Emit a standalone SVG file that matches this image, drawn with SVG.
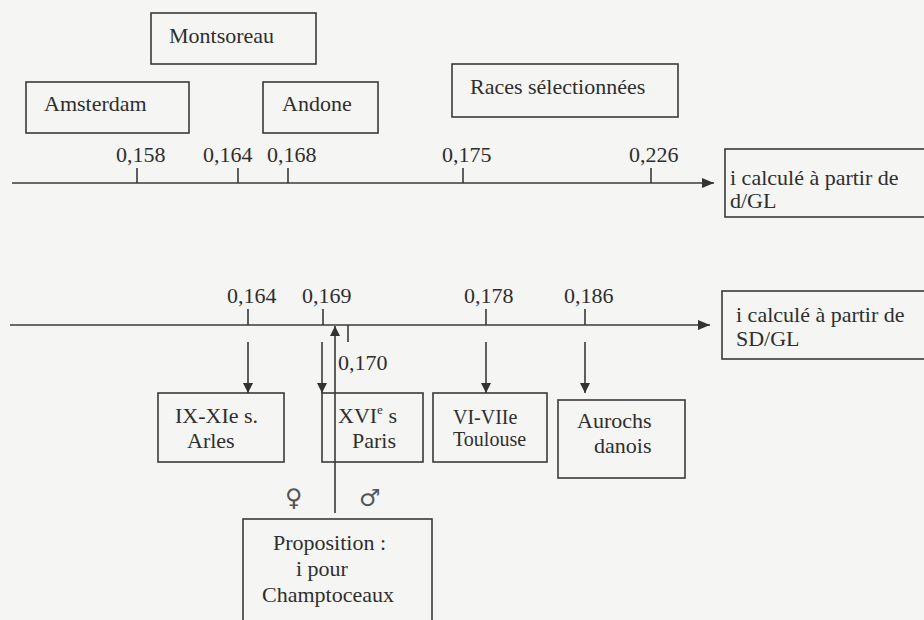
<svg xmlns="http://www.w3.org/2000/svg" width="924" height="620" viewBox="0 0 924 620">
<defs>
<marker id="ah" viewBox="0 0 10 10" refX="10" refY="5" markerWidth="10" markerHeight="10" markerUnits="userSpaceOnUse" orient="auto">
<path d="M0,0 L10,5 L0,10 z" fill="#333"/>
</marker>
<marker id="ax" viewBox="0 0 12 10" refX="12" refY="5" markerWidth="12" markerHeight="10" markerUnits="userSpaceOnUse" orient="auto">
<path d="M0,0 L12,5 L0,10 z" fill="#333"/>
</marker>
</defs>
<style>
text{font-family:"Liberation Serif","Times New Roman",serif;font-size:22px;fill:#2e2e2e}
.sm{font-size:20px}
.sym{font-family:"DejaVu Sans",sans-serif;font-size:24px;fill:#555}
.box{fill:none;stroke:#3a3a3a;stroke-width:1.6}
.ln{stroke:#3a3a3a;stroke-width:1.6;fill:none}
</style>
<rect width="924" height="620" fill="#f5f5f3"/>

<g id="montsoreau"><rect class="box" x="151" y="13" width="165" height="51"/><text x="169" y="43">Montsoreau</text></g>
<g id="amsterdam"><rect class="box" x="26" y="82" width="163" height="51"/><text x="44" y="111">Amsterdam</text></g>
<g id="andone"><rect class="box" x="263" y="82" width="115" height="51"/><text x="282" y="111">Andone</text></g>
<g id="races"><rect class="box" x="452" y="64" width="226" height="53"/><text x="470" y="94">Races sélectionnées</text></g>
<g id="axis1-label"><rect class="box" x="725" y="149" width="210" height="68"/><text x="730" y="185">i calculé à partir de</text><text x="730" y="208">d/GL</text></g>
<g id="axis2-label"><rect class="box" x="722" y="291" width="210" height="68"/><text x="736" y="322">i calculé à partir de</text><text x="736" y="346">SD/GL</text></g>

<g id="arles"><rect class="box" x="158" y="393" width="126" height="69"/><text x="175" y="423">IX-XIe s.</text><text x="187" y="448">Arles</text></g>
<g id="paris"><rect class="box" x="322" y="393" width="101" height="69"/><text x="338" y="423">XVI<tspan font-size="13" dy="-9">e</tspan><tspan dy="9"> s</tspan></text><text x="352" y="448">Paris</text></g>
<g id="toulouse"><rect class="box" x="433" y="393" width="114" height="69"/><text class="sm" x="453" y="424">VI-VIIe</text><text class="sm" x="453" y="446">Toulouse</text></g>
<g id="aurochs"><rect class="box" x="558" y="400" width="127" height="78"/><text x="577" y="428">Aurochs</text><text x="594" y="453">danois</text></g>
<g id="proposition"><rect class="box" x="243" y="519" width="189" height="130"/><text x="273" y="550">Proposition :</text><text x="296" y="576">i pour</text><text x="262" y="602">Champtoceaux</text></g>

<g id="axis1">
<line class="ln" x1="12" y1="183" x2="714" y2="183" marker-end="url(#ax)"/>
<path class="ln" d="M137,168V183 M238,168V183 M288,168V183 M463,168V183 M651,168V183"/>
<text x="116" y="162">0,158</text><text x="203" y="162">0,164</text><text x="267" y="162">0,168</text><text x="442" y="162">0,175</text><text x="629" y="162">0,226</text>
</g>
<g id="axis2">
<line class="ln" x1="10" y1="325" x2="710" y2="325" marker-end="url(#ax)"/>
<path class="ln" d="M248,309V325 M323,309V325 M486,309V325 M585,309V325 M348,325V342"/>
<text x="227" y="303">0,164</text><text x="302" y="303">0,169</text><text x="464" y="303">0,178</text><text x="564" y="303">0,186</text><text x="338" y="370">0,170</text>
</g>
<g id="connectors">
<line class="ln" x1="248" y1="342" x2="248" y2="393" marker-end="url(#ah)"/>
<line class="ln" x1="322" y1="342" x2="322" y2="393" marker-end="url(#ah)"/>
<line class="ln" x1="486" y1="342" x2="486" y2="393" marker-end="url(#ah)"/>
<line class="ln" x1="585" y1="342" x2="585" y2="393" marker-end="url(#ah)"/>
<line class="ln" x1="335" y1="513" x2="335" y2="326" marker-end="url(#ah)"/>
<text class="sym" x="285" y="506">♀</text><text class="sym" x="359" y="506">♂</text>
</g>
</svg>
